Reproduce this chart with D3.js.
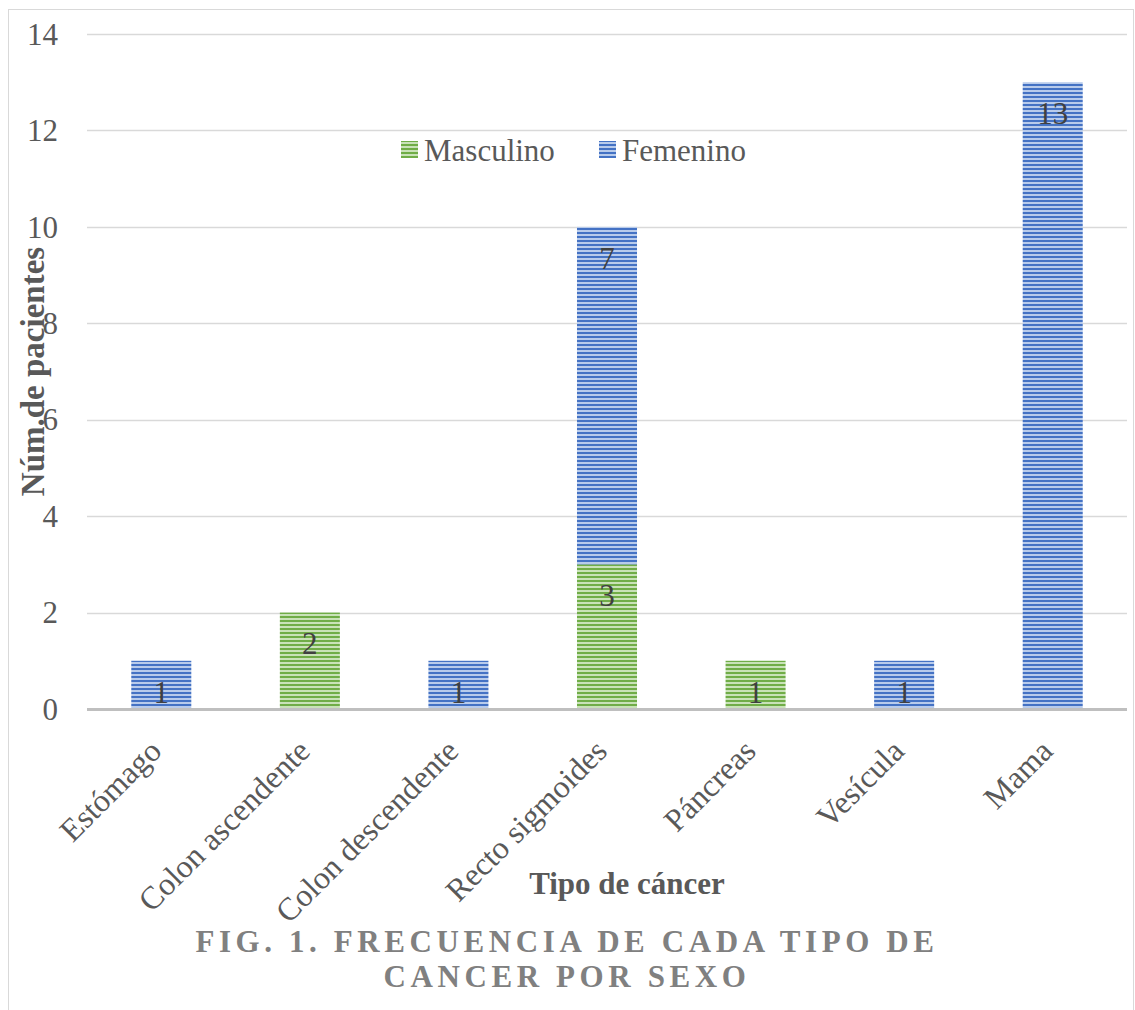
<!DOCTYPE html>
<html>
<head>
<meta charset="utf-8">
<script src="https://cdn.jsdelivr.net/npm/d3@7"></script>
<style>
  html, body { margin: 0; padding: 0; background: #fff; }
  svg { display: block; }
</style>
</head>
<body>
<svg id="chart" width="1135" height="1010"></svg>
<script>
// Cancer type frequency by sex
const categories = ["Estómago", "Colon ascendente", "Colon descendente", "Recto sigmoides", "Páncreas", "Vesícula", "Mama"];
const masculino = [0, 2, 0, 3, 1, 0, 0];
const femenino  = [1, 0, 1, 7, 0, 1, 13];
const seriesNames = ["Masculino", "Femenino"];
const yTicks = [0, 2, 4, 6, 8, 10, 12, 14];

const W = 1135, H = 1010;
const margin = { left: 87, right: 8, top: 34, bottom: 301 };
const svg = d3.select("#chart");
const serif = "'Liberation Serif', 'Times New Roman', serif";

// striped fills
const defs = svg.append("defs");
function stripes(id, dark, light) {
  const p = defs.append("pattern").attr("id", id)
    .attr("patternUnits", "userSpaceOnUse").attr("width", 8).attr("height", 4);
  p.append("rect").attr("width", 8).attr("height", 4).attr("fill", light);
  p.append("rect").attr("width", 8).attr("height", 2).attr("fill", dark);
}
stripes("stripeGreen", "#70ad47", "#c9e2b8");
stripes("stripeBlue", "#4472c4", "#b8cbeb");
const fills = { Masculino: "url(#stripeGreen)", Femenino: "url(#stripeBlue)" };

// outer frame
svg.append("rect").attr("x", 8.5).attr("y", 9.5).attr("width", W - 10).attr("height", H)
  .attr("fill", "none").attr("stroke", "#d9d9d9").attr("stroke-width", 1);

const x = d3.scaleBand().domain(categories)
  .range([margin.left, W - margin.right]).paddingInner(0.596).paddingOuter(0.298);
const y = d3.scaleLinear().domain([0, 14]).range([H - margin.bottom, margin.top]);

// gridlines
svg.append("g").selectAll("line").data(yTicks.filter(d => d > 0)).join("line")
  .attr("x1", margin.left).attr("x2", W - margin.right)
  .attr("y1", d => Math.round(y(d)) + 0.5).attr("y2", d => Math.round(y(d)) + 0.5)
  .attr("stroke", "#d9d9d9").attr("stroke-width", 1.5);

// y tick labels
const yAxis = svg.append("g").attr("transform", `translate(${margin.left - 29},0)`)
  .call(d3.axisLeft(y).tickValues(yTicks).tickSize(0).tickPadding(0));
yAxis.select(".domain").remove();
yAxis.selectAll("text").attr("font-family", serif).attr("font-size", 31)
  .attr("fill", "#595959").attr("dy", "0.33em");

// stacked bars
const rows = categories.map((c, i) => ({ cat: c, Masculino: masculino[i], Femenino: femenino[i] }));
const stack = d3.stack().keys(seriesNames)(rows);
const layers = svg.append("g").selectAll("g").data(stack).join("g")
  .attr("fill", d => fills[d.key]);
layers.selectAll("rect").data(d => d.filter(s => s[1] - s[0] > 0)).join("rect")
  .attr("x", d => x(d.data.cat)).attr("width", x.bandwidth())
  .attr("y", d => y(d[1])).attr("height", d => y(d[0]) - y(d[1]));

// value labels, placed just inside the top of each segment
svg.append("g").selectAll("g").data(stack).join("g")
  .selectAll("text").data(d => d.filter(s => s[1] - s[0] > 0)).join("text")
  .attr("x", d => x(d.data.cat) + x.bandwidth() / 2)
  .attr("y", d => y(d[1]) + 31)
  .attr("dy", "0.35em").attr("text-anchor", "middle")
  .attr("font-family", serif).attr("font-size", 31).attr("fill", "#404040")
  .text(d => d[1] - d[0]);

// baseline
svg.append("line").attr("x1", margin.left).attr("x2", W - margin.right)
  .attr("y1", y(0) + 0.5).attr("y2", y(0) + 0.5)
  .attr("stroke", "#bfbfbf").attr("stroke-width", 3);

// x tick labels, rotated
svg.append("g").selectAll("text").data(categories).join("text")
  .attr("transform", c => `translate(${x(c) + x.bandwidth() / 2 - 6},${y(0) + 36}) rotate(-45)`)
  .attr("text-anchor", "end").attr("dy", "0.35em")
  .attr("font-family", serif).attr("font-size", 32).attr("fill", "#595959")
  .text(c => c);

// axis titles
svg.append("text").attr("transform", `translate(44,${(y(0) + y(14)) / 2}) rotate(-90)`)
  .attr("text-anchor", "middle").attr("font-family", serif).attr("font-size", 33)
  .attr("font-weight", "bold").attr("fill", "#595959")
  .text("Núm.de pacientes");
svg.append("text").attr("x", 627).attr("y", 894).attr("text-anchor", "middle")
  .attr("font-family", serif).attr("font-size", 31).attr("font-weight", "bold")
  .attr("fill", "#595959").text("Tipo de cáncer");

// legend
const legend = svg.append("g");
const legendItems = [
  { key: "Masculino", sx: 401, tx: 424 },
  { key: "Femenino", sx: 599, tx: 622 }
];
legend.selectAll("rect").data(legendItems).join("rect")
  .attr("x", d => d.sx).attr("y", 141).attr("width", 17).attr("height", 17)
  .attr("fill", d => fills[d.key]);
legend.selectAll("text").data(legendItems).join("text")
  .attr("x", d => d.tx).attr("y", 150).attr("dy", "0.35em")
  .attr("font-family", serif).attr("font-size", 31).attr("fill", "#595959")
  .text(d => d.key);

// figure caption
const cap = svg.append("g").attr("font-family", serif).attr("font-size", 31)
  .attr("font-weight", "bold").attr("fill", "#808080").attr("text-anchor", "middle")
  .attr("letter-spacing", 4.6);
cap.append("text").attr("x", 567).attr("y", 952).text("FIG. 1. FRECUENCIA DE CADA TIPO DE");
cap.append("text").attr("x", 567).attr("y", 987).text("CANCER POR SEXO");
</script>
</body>
</html>
